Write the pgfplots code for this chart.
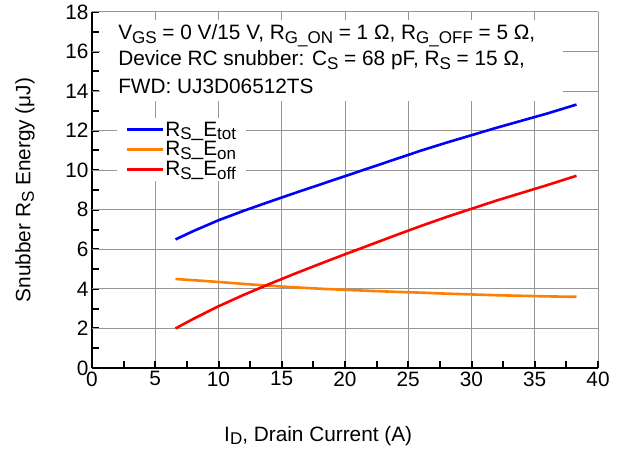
\documentclass[border=0pt]{standalone}
\usepackage{fontspec}
\setmainfont{Liberation Sans}
\usepackage{pgfplots}
\pgfplotsset{compat=1.18}
\newcommand\sub[1]{\raisebox{-0.32ex}{\fontsize{17}{17}\selectfont #1}}
\definecolor{cblue}{RGB}{0,0,255}
\definecolor{corange}{RGB}{255,128,0}
\definecolor{cred}{RGB}{255,0,0}
\definecolor{cgrid}{RGB}{150,150,150}
\begin{document}
\begin{tikzpicture}[font=\fontsize{20.8}{25}\selectfont]
\begin{axis}[
  at={(0pt,0pt)}, anchor=south west, scale only axis,
  width=506pt, height=356pt,
  xmin=0, xmax=40, ymin=0, ymax=18,
  xtick={0,5,...,40}, ytick={0,2,...,18},
  minor x tick num=1, minor y tick num=1,
  axis lines=left, axis line style={-, line width=2.5pt, black},
  xmajorgrids, ymajorgrids,
  grid style={cgrid, line width=1pt},
  tick align=inside, major tick length=7pt, minor tick length=7pt,
  tick style={black, line width=2pt},
  tick label style={font=\fontsize{20.8}{25}\selectfont},
  /pgf/number format/assume math mode=true,
  legend style={at={(axis cs:1.98,12.64)}, anchor=north west, draw=none, fill=white,
    font=\fontsize{20.8}{25}\selectfont, inner xsep=8pt, inner ysep=2pt,
    row sep=1pt, nodes={inner sep=1.5pt}},
  legend cell align=left,
  legend image code/.code={\draw[#1, line width=2.6pt] (0pt,0pt) -- (36pt,0pt);},
]
\pgfplotsinvokeforeach{5,10,...,40}{\draw[cgrid, line width=1pt] (axis cs:#1,0) -- (axis cs:#1,18);}
\pgfplotsinvokeforeach{2,4,...,18}{\draw[cgrid, line width=1pt] (axis cs:0,#1) -- (axis cs:40,#1);}
\addplot[cblue, line width=2.6pt, line join=round] coordinates {
(6.6,6.5) (8,6.92) (10,7.47) (12,7.95) (14,8.4) (16,8.84) (18,9.27) (20,9.7) (22,10.13) (24,10.56) (26,10.99) (28,11.39) (30,11.77) (32,12.15) (34,12.51) (36,12.87) (38.3,13.32)};
\addlegendentry{R\sub{S}\_E\sub{tot}}
\addplot[corange, line width=2.6pt, line join=round] coordinates {
(6.6,4.5) (8,4.44) (10,4.35) (12,4.25) (14,4.16) (16,4.08) (18,4.01) (20,3.95) (22,3.9) (24,3.85) (26,3.81) (28,3.76) (30,3.72) (32,3.68) (34,3.65) (36,3.62) (38.3,3.6)};
\addlegendentry{R\sub{S}\_E\sub{on}}
\addplot[cred, line width=2.6pt, line join=round] coordinates {
(6.6,2.0) (8,2.48) (10,3.12) (12,3.7) (14,4.24) (16,4.76) (18,5.26) (20,5.75) (22,6.23) (24,6.71) (26,7.18) (28,7.63) (30,8.05) (32,8.47) (34,8.86) (36,9.25) (38.3,9.72)};
\addlegendentry{R\sub{S}\_E\sub{off}}
\fill[white] (axis cs:0.63,17.6) rectangle (axis cs:37.2,13.5);
\draw[black, line width=2.5pt] (axis cs:0,0) -- (axis cs:40,0);
\pgfplotsinvokeforeach{2.5,5,...,40}{\draw[black, line width=2pt] (axis cs:#1,0) -- ++(0pt,7pt);}
\node[anchor=base west, inner sep=0pt] at (axis cs:2.06,16.61) {V\sub{GS} = 0 V/15 V, R\sub{G\_ON} = 1 Ω, R\sub{G\_OFF} = 5 Ω,};
\node[anchor=base west, inner sep=0pt] at (axis cs:2.06,15.27) {Device RC snubber: C\sub{S} = 68 pF, R\sub{S} = 15 Ω,};
\node[anchor=base west, inner sep=0pt] at (axis cs:2.06,13.88) {FWD: UJ3D06512TS};
\end{axis}
\node[anchor=center] at (226.2pt,-68pt) {I\sub{D}, Drain Current (A)};
\node[anchor=center, rotate=90] at (-67pt,178pt) {Snubber R\sub{S} Energy (μJ)};
\pgfresetboundingbox
\path[use as bounding box] (-92pt,-82pt) rectangle (527pt,368pt);
\end{tikzpicture}
\end{document}
